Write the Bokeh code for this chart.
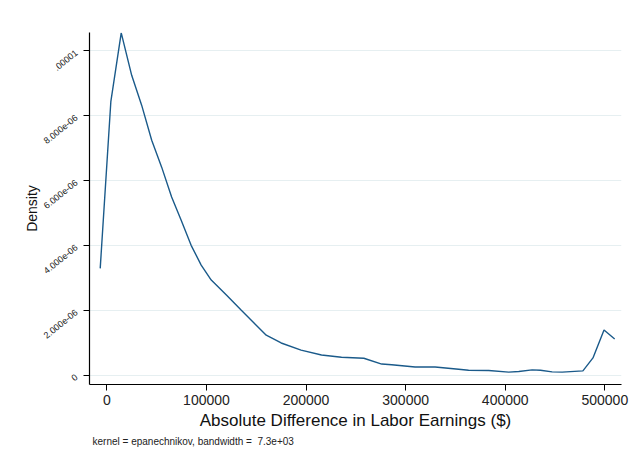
import math
from bokeh.plotting import figure
from bokeh.layouts import row
from bokeh.models import FixedTicker, Range1d, Title
from bokeh.core.properties import value
from bokeh.embed import file_html
from bokeh.resources import INLINE

# Kernel density estimate
earnings_diff = [-6700, 4000, 14400, 24900, 34900, 45000, 55000, 65000, 74500, 84600,
                 94700, 104800, 120000, 135000, 160000, 175000, 195000, 215500, 235600,
                 258000, 276000, 286000, 309500, 329600, 353200, 363200, 383400, 403500,
                 413600, 427000, 435400, 447100, 457200, 478000, 488100, 499200, 509900]
density = [3.29e-6, 8.44e-6, 10.55e-6, 9.24e-6, 8.32e-6, 7.24e-6, 6.41e-6, 5.49e-6, 4.78e-6, 4.0e-6,
           3.39e-6, 2.93e-6, 2.47e-6, 2.0e-6, 1.23e-6, 0.99e-6, 0.77e-6, 0.62e-6, 0.55e-6,
           0.52e-6, 0.34e-6, 0.32e-6, 0.25e-6, 0.25e-6, 0.18e-6, 0.15e-6, 0.14e-6, 0.09e-6,
           0.11e-6, 0.16e-6, 0.15e-6, 0.10e-6, 0.09e-6, 0.13e-6, 0.53e-6, 1.39e-6, 1.11e-6]

x_ticks = [0, 100000, 200000, 300000, 400000, 500000]
x_tick_labels = ["0", "100000", "200000", "300000", "400000", "500000"]
y_ticks = [0, 2e-6, 4e-6, 6e-6, 8e-6, 1e-5]
y_tick_labels = ["0", "2.000e-06", "4.000e-06", "6.000e-06", "8.000e-06", ".00001"]
y_title = "Density"
x_title = "Absolute Difference in Labor Earnings ($)"
note_text = "kernel = epanechnikov, bandwidth =\u00a0 7.3e+03"

FONT = "Liberation Sans"
LINE = "#1a5a8a"
GRID = "#e6eff1"

X0, X1 = -17460, 516750
Y0, Y1 = -0.29e-6, 10.56e-6

FRAME_H = 352
TOP = 32
BOTTOM = 74
LEFT_W = 81

yr = Range1d(Y0, Y1)

# ---- main plot ----
p = figure(frame_width=532, frame_height=FRAME_H, output_backend="svg", toolbar_location=None,
           x_range=Range1d(X0, X1), y_range=yr,
           min_border_left=8, min_border_right=9, min_border_top=TOP, min_border_bottom=BOTTOM)
p.outline_line_color = None
p.background_fill_color = "white"
p.border_fill_color = "white"

p.line(earnings_diff, density, line_color=LINE, line_width=1.4)

p.xaxis.ticker = FixedTicker(ticks=x_ticks)
p.xaxis.major_label_overrides = {t: l for t, l in zip(x_ticks, x_tick_labels)}
p.yaxis.ticker = FixedTicker(ticks=y_ticks)

for ax in (p.xaxis, p.yaxis):
    ax.axis_line_color = "black"
    ax.axis_line_width = 1.2
    ax.major_tick_line_color = "black"
    ax.major_tick_out = 6
    ax.major_tick_in = 0
    ax.minor_tick_line_color = None
    ax.major_label_text_font = FONT
    ax.major_label_text_color = "#222222"
    ax.axis_label_text_font = FONT
    ax.axis_label_text_font_style = "normal"
    ax.axis_label_text_color = "#111111"

p.yaxis.major_label_text_font_size = "0px"
p.yaxis.major_label_standoff = 0
p.yaxis.major_label_text_color = None

p.xaxis.major_label_text_font_size = "14px"
p.xaxis.axis_label = x_title
p.xaxis.axis_label_text_font_size = "17px"
p.xaxis.axis_label_standoff = 3
p.xaxis.major_label_standoff = 4

p.xgrid.grid_line_color = None
p.ygrid.grid_line_color = GRID
p.ygrid.grid_line_width = 1.2
p.ygrid.ticker = FixedTicker(ticks=y_ticks)

note = Title(text=note_text, align="left", standoff=2,
             text_font=FONT, text_font_size="10px", text_font_style="normal",
             text_color="#222222", offset=3)
p.add_layout(note, "below")

# ---- left strip holding the rotated y tick labels and the y title ----
q = figure(width=LEFT_W, frame_height=FRAME_H, output_backend="svg", toolbar_location=None,
           x_range=Range1d(0, LEFT_W), y_range=yr,
           min_border_left=0, min_border_right=0, min_border_top=TOP, min_border_bottom=BOTTOM)
q.axis.visible = False
q.grid.grid_line_color = None
q.outline_line_color = None
q.border_fill_color = "white"
q.background_fill_color = "white"
q.text(x=[LEFT_W] * len(y_ticks), y=y_ticks, text=y_tick_labels, angle=0.68,
       x_offset=-5, y_offset=1, text_align="right", text_baseline="middle",
       text_font=value(FONT), text_font_size="9px", text_color="#222222")
q.text(x=[31], y=[(Y0 + Y1) / 2], text=[y_title], angle=math.pi / 2,
       text_align="center", text_baseline="middle",
       text_font=value(FONT), text_font_size="14px", text_color="#111111")

layout = row(q, p, spacing=0)
open("out.html", "w").write(file_html(layout, INLINE))
